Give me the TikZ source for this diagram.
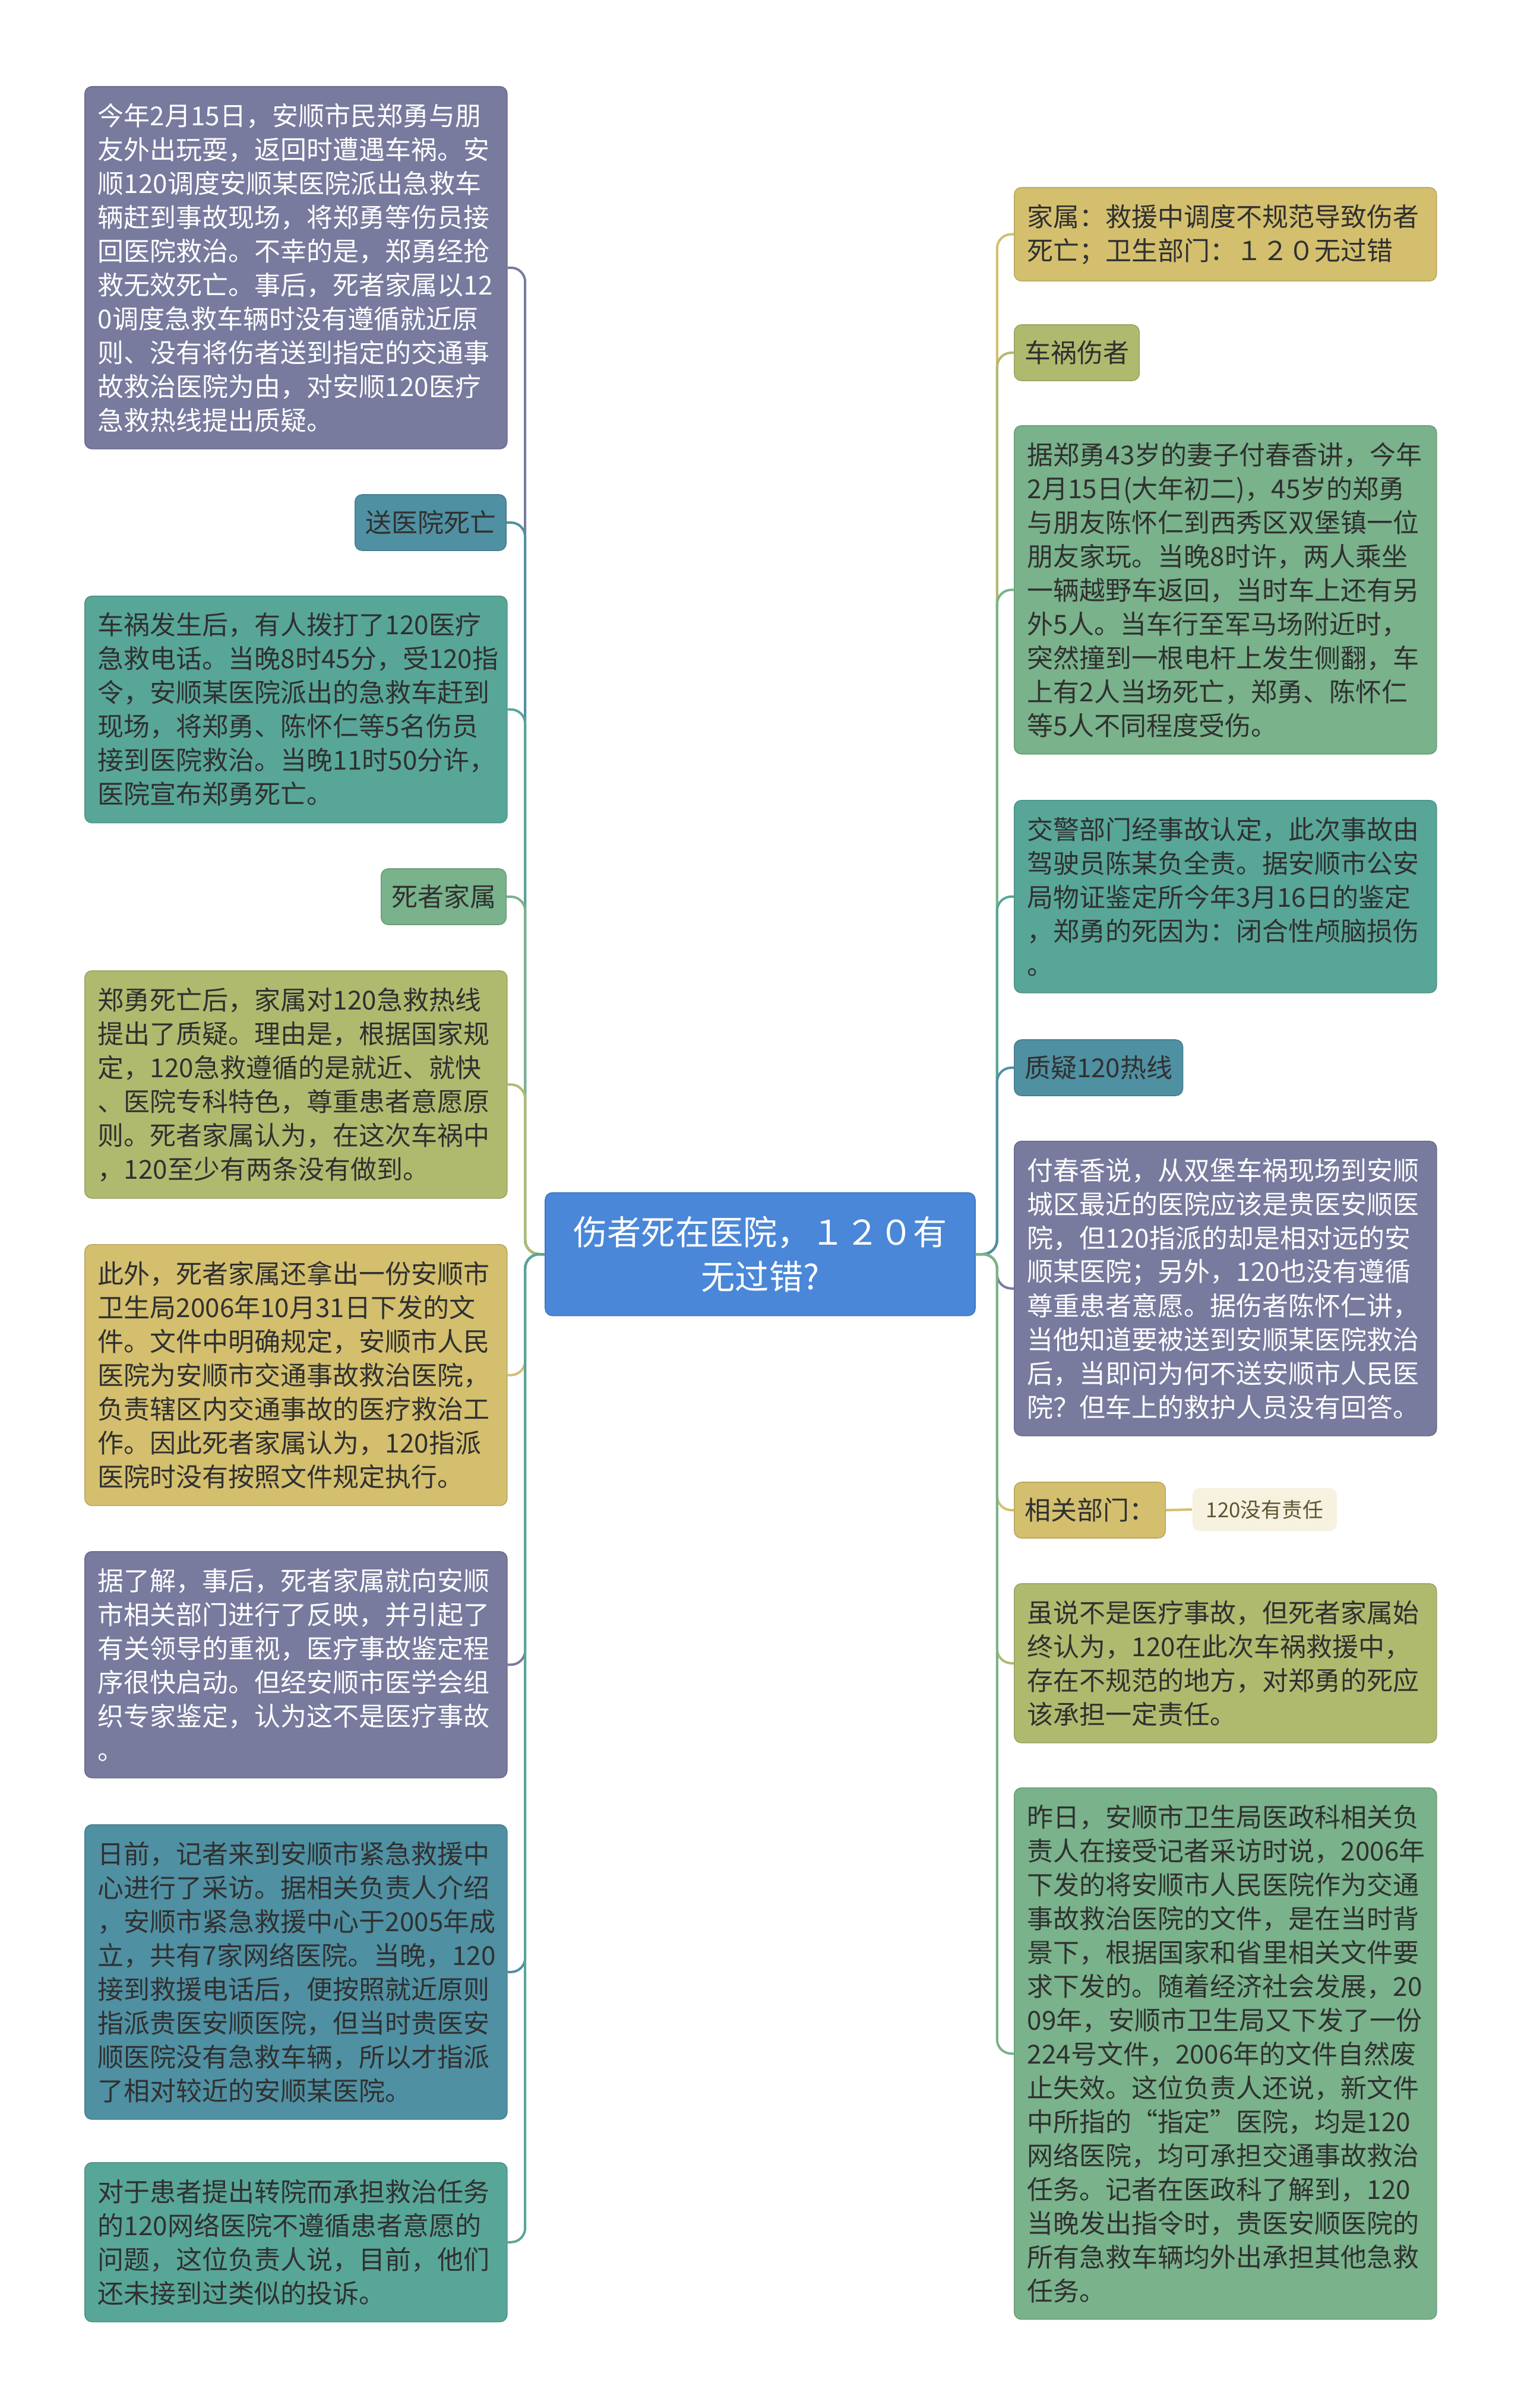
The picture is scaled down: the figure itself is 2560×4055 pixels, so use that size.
\documentclass[tikz,border=0pt]{standalone}
\usepackage{fontspec}
\setmainfont{Noto Sans CJK SC}
\definecolor{cPurple}{HTML}{787A9E}
\definecolor{cSteel}{HTML}{4F90A2}
\definecolor{cTeal}{HTML}{58A698}
\definecolor{cGreen}{HTML}{79B28B}
\definecolor{cOlive}{HTML}{B0BA6F}
\definecolor{cGold}{HTML}{D3BF6E}
\definecolor{cRoot}{HTML}{4A87D8}
\definecolor{cCream}{HTML}{F6F2DF}
\definecolor{txt}{HTML}{303030}
\begin{document}
\begin{tikzpicture}[x=0.25pt, y=-0.25pt,
	box/.style={rounded corners=3pt, draw=#1!88!black, line width=0.4pt, fill=#1, text=txt,
		anchor=north west, text width=166.75pt, align=left, inner xsep=5.5pt, inner ysep=7pt,
		font=\fontsize{11}{14.25}\selectfont},
	tag/.style={rounded corners=3pt, draw=#1!88!black, line width=0.4pt, fill=#1, text=txt,
		inner xsep=4.3pt, inner ysep=0pt, minimum height=23.5pt, font=\fontsize{11}{14.25}\selectfont},
	link/.style={draw=#1, line width=1pt, rounded corners=6pt}]
	% Nền và khung
	\fill[white] (0,0) rectangle (2560,4055);
	\useasboundingbox (0,0) rectangle (2560,4055);
	
	% Nút trung tâm
	\node[rounded corners=3pt, draw=cRoot!88!black, line width=0.4pt, fill=cRoot, text=white,
		minimum width=181pt, minimum height=51.75pt, align=center,
		font=\fontsize{14.3}{18.75}\selectfont] (root) at (1280,2112) {伤者死在医院，１２０有\\无过错?};
	
	% Các nhánh bên trái
	\node[box=cPurple, text=white] (L1) at (142,145) {今年2月15日，安顺市民郑勇与朋\\友外出玩耍，返回时遭遇车祸。安\\顺120调度安顺某医院派出急救车\\辆赶到事故现场，将郑勇等伤员接\\回医院救治。不幸的是，郑勇经抢\\救无效死亡。事后，死者家属以12\\0调度急救车辆时没有遵循就近原\\则、没有将伤者送到指定的交通事\\故救治医院为由，对安顺120医疗\\急救热线提出质疑。};
	\node[tag=cSteel, anchor=east] (L2) at (853,880) {送医院死亡};
	\node[box=cTeal] (L3) at (142,1003) {车祸发生后，有人拨打了120医疗\\急救电话。当晚8时45分，受120指\\令，安顺某医院派出的急救车赶到\\现场，将郑勇、陈怀仁等5名伤员\\接到医院救治。当晚11时50分许，\\医院宣布郑勇死亡。};
	\node[tag=cGreen, anchor=east] (L4) at (853,1510) {死者家属};
	\node[box=cOlive] (L5) at (142,1634) {郑勇死亡后，家属对120急救热线\\提出了质疑。理由是，根据国家规\\定，120急救遵循的是就近、就快\\、医院专科特色，尊重患者意愿原\\则。死者家属认为，在这次车祸中\\，120至少有两条没有做到。};
	\node[box=cGold] (L6) at (142,2095) {此外，死者家属还拿出一份安顺市\\卫生局2006年10月31日下发的文\\件。文件中明确规定，安顺市人民\\医院为安顺市交通事故救治医院，\\负责辖区内交通事故的医疗救治工\\作。因此死者家属认为，120指派\\医院时没有按照文件规定执行。};
	\node[box=cPurple, text=white] (L7) at (142,2612) {据了解，事后，死者家属就向安顺\\市相关部门进行了反映，并引起了\\有关领导的重视，医疗事故鉴定程\\序很快启动。但经安顺市医学会组\\织专家鉴定，认为这不是医疗事故\\。};
	\node[box=cSteel] (L8) at (142,3072) {日前，记者来到安顺市紧急救援中\\心进行了采访。据相关负责人介绍\\，安顺市紧急救援中心于2005年成\\立，共有7家网络医院。当晚，120\\接到救援电话后，便按照就近原则\\指派贵医安顺医院，但当时贵医安\\顺医院没有急救车辆，所以才指派\\了相对较近的安顺某医院。};
	\node[box=cTeal] (L9) at (142,3641) {对于患者提出转院而承担救治任务\\的120网络医院不遵循患者意愿的\\问题，这位负责人说，目前，他们\\还未接到过类似的投诉。};
	
	% Các nhánh bên phải
	\node[box=cGold] (R1) at (1707,315) {家属：救援中调度不规范导致伤者\\死亡；卫生部门：１２０无过错};
	\node[tag=cOlive, anchor=west] (R2) at (1707,594) {车祸伤者};
	\node[box=cGreen] (R3) at (1707,716) {据郑勇43岁的妻子付春香讲，今年\\2月15日(大年初二)，45岁的郑勇\\与朋友陈怀仁到西秀区双堡镇一位\\朋友家玩。当晚8时许，两人乘坐\\一辆越野车返回，当时车上还有另\\外5人。当车行至军马场附近时，\\突然撞到一根电杆上发生侧翻，车\\上有2人当场死亡，郑勇、陈怀仁\\等5人不同程度受伤。};
	\node[box=cTeal] (R4) at (1707,1347) {交警部门经事故认定，此次事故由\\驾驶员陈某负全责。据安顺市公安\\局物证鉴定所今年3月16日的鉴定\\，郑勇的死因为：闭合性颅脑损伤\\。};
	\node[tag=cSteel, anchor=west] (R5) at (1707,1798) {质疑120热线};
	\node[box=cPurple, text=white] (R6) at (1707,1921) {付春香说，从双堡车祸现场到安顺\\城区最近的医院应该是贵医安顺医\\院，但120指派的却是相对远的安\\顺某医院；另外，120也没有遵循\\尊重患者意愿。据伤者陈怀仁讲，\\当他知道要被送到安顺某医院救治\\后，当即问为何不送安顺市人民医\\院？但车上的救护人员没有回答。};
	\node[tag=cGold, anchor=west] (R7) at (1707,2543) {相关部门：};
	\node[rounded corners=3pt, fill=cCream, text=cGold!45!black, anchor=west,
		minimum width=60.75pt, minimum height=18pt, font=\fontsize{8.7}{10}\selectfont] (R7b) at (2007,2542) {120没有责任};
	\node[box=cOlive] (R8) at (1707,2666) {虽说不是医疗事故，但死者家属始\\终认为，120在此次车祸救援中，\\存在不规范的地方，对郑勇的死应\\该承担一定责任。};
	\node[box=cGreen] (R9) at (1707,3010) {昨日，安顺市卫生局医政科相关负\\责人在接受记者采访时说，2006年\\下发的将安顺市人民医院作为交通\\事故救治医院的文件，是在当时背\\景下，根据国家和省里相关文件要\\求下发的。随着经济社会发展，20\\09年，安顺市卫生局又下发了一份\\224号文件，2006年的文件自然废\\止失效。这位负责人还说，新文件\\中所指的“指定”医院，均是120\\网络医院，均可承担交通事故救治\\任务。记者在医政科了解到，120\\当晚发出指令时，贵医安顺医院的\\所有急救车辆均外出承担其他急救\\任务。};
	
	% Đường nối bên trái
	\draw[link=cPurple] (root.west) -- ++(-33,0) |- (L1.east);
	\draw[link=cSteel] (root.west) -- ++(-33,0) |- (L2.east);
	\draw[link=cTeal] (root.west) -- ++(-33,0) |- (L3.east);
	\draw[link=cGreen] (root.west) -- ++(-33,0) |- (L4.east);
	\draw[link=cOlive] (root.west) -- ++(-33,0) |- (L5.east);
	\draw[link=cGold] (root.west) -- ++(-33,0) |- (L6.east);
	\draw[link=cPurple] (root.west) -- ++(-33,0) |- (L7.east);
	\draw[link=cSteel] (root.west) -- ++(-33,0) |- (L8.east);
	\draw[link=cTeal] (root.west) -- ++(-33,0) |- (L9.east);
	
	% Đường nối bên phải
	\draw[link=cGold] (root.east) -- ++(36,0) |- (R1.west);
	\draw[link=cOlive] (root.east) -- ++(36,0) |- (R2.west);
	\draw[link=cGreen] (root.east) -- ++(36,0) |- (R3.west);
	\draw[link=cTeal] (root.east) -- ++(36,0) |- (R4.west);
	\draw[link=cSteel] (root.east) -- ++(36,0) |- (R5.west);
	\draw[link=cPurple] (root.east) -- ++(36,0) |- (R6.west);
	\draw[link=cGold] (root.east) -- ++(36,0) |- (R7.west);
	\draw[link=cOlive] (root.east) -- ++(36,0) |- (R8.west);
	\draw[link=cGreen] (root.east) -- ++(36,0) |- (R9.west);
	\draw[link=cGold] (R7.east) -- (R7b.west);
\end{tikzpicture}
\end{document}
